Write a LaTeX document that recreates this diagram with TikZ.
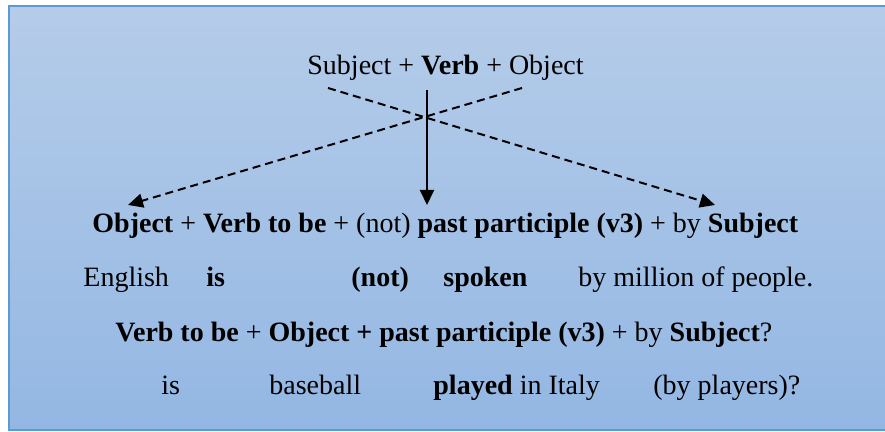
\documentclass[tikz,border=0pt]{standalone}
\usepackage{fontspec}
\setmainfont{Liberation Serif}
\usetikzlibrary{arrows.meta}
\definecolor{bgtop}{RGB}{181,204,233}
\definecolor{bgbot}{RGB}{147,183,227}
\definecolor{framec}{RGB}{91,155,213}
\begin{document}
\begin{tikzpicture}[x=0.5pt,y=-0.5pt,
  txt/.style={inner sep=0pt,anchor=base west,font=\fontsize{14pt}{16pt}\selectfont},
  arr/.style={line width=1pt,-{Triangle[length=7.5pt,width=7pt]}},
  darr/.style={arr,dash pattern=on 4pt off 2.5pt}]
\useasboundingbox (0,0) rectangle (885,432);
\begin{scope}
\clip (0,0) rectangle (885,432);
\shade[top color=bgtop,bottom color=bgbot,draw=framec,line width=1pt] (9,6.5) rectangle (895,430.5);
\end{scope}
\node[txt] (l1) at (307,75) {Subject + \textbf{Verb} + Object};
\node[txt] (l2) at (92,233) {\textbf{Object} + \textbf{Verb to be} + (not) \textbf{past participle (v3)} + by \textbf{Subject}};
\node[txt] (e1) at (83,287) {English};
\node[txt] (e2) at (206,287) {\textbf{is}};
\node[txt] (e3) at (351,287) {\textbf{(not)}};
\node[txt] (e4) at (443,287) {\textbf{spoken}};
\node[txt] (e5) at (578,287) {by million of people.};
\node[txt] (l4) at (115,342) {\textbf{Verb to be} + \textbf{Object + past participle (v3)} + by \textbf{Subject}?};
\node[txt] (q1) at (161,395) {is};
\node[txt] (q2) at (269,395) {baseball};
\node[txt] (q3) at (433,395) {\textbf{played} in Italy};
\node[txt] (q4) at (653,395) {(by players)?};
\coordinate (vs) at (427,90);
\coordinate (vt) at (427,205);
\coordinate (d1s) at (328,88);
\coordinate (d1t) at (715,205);
\coordinate (d2s) at (522,88);
\coordinate (d2t) at (128,205);
\draw[arr] (vs) -- (vt);
\draw[darr] (d1s) -- (d1t);
\draw[darr] (d2s) -- (d2t);
\end{tikzpicture}
\end{document}
